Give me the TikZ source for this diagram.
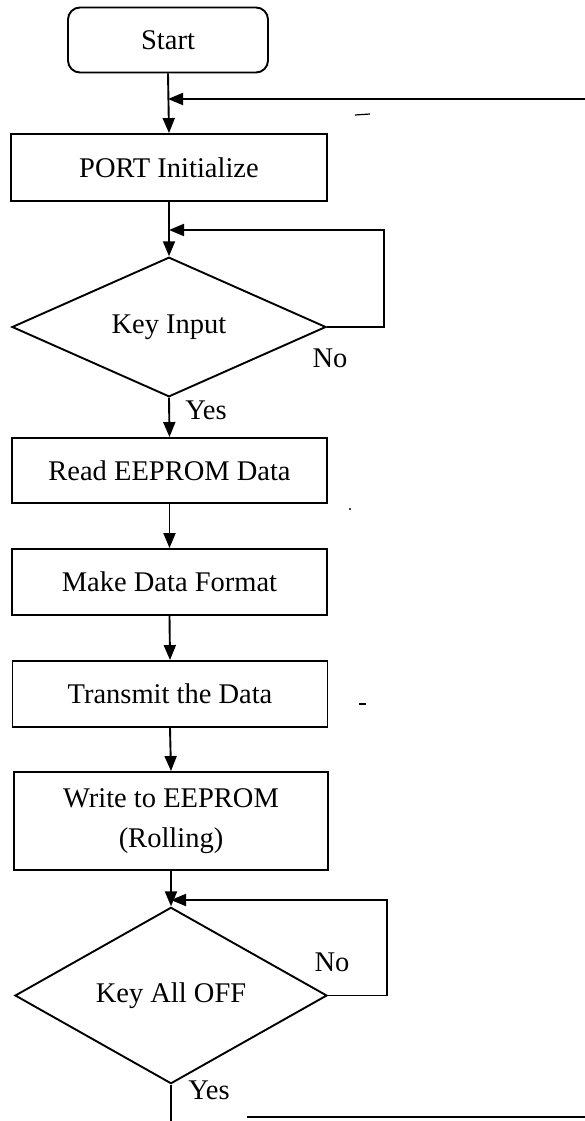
\documentclass[tikz,border=0pt]{standalone}
\usepackage{fontspec}
\setmainfont{Liberation Serif}
\usetikzlibrary{arrows.meta,shapes.geometric}
\begin{document}
\begin{tikzpicture}[x=1pt,y=-1pt,
  line width=1.9pt,
  txt/.style={font=\fontsize{28.5}{40}\selectfont},
  procbox/.style={draw,rectangle,inner sep=0pt,txt,align=center},
  termbox/.style={draw,rectangle,rounded corners=12pt,inner sep=0pt,txt},
  decbox/.style={draw,diamond,inner sep=0pt,txt},
  lbl/.style={inner sep=0pt,txt},
  arr/.style={-{Triangle[length=15pt,width=12pt]}}]
\useasboundingbox (0,0) rectangle (585,1121);

\node[termbox,minimum width=200pt,minimum height=65pt] (start) at (168,40) {Start};
\node[procbox,minimum width=316pt,minimum height=67pt] (port) at (169,167.5) {PORT Initialize};
\node[decbox,minimum width=314pt,minimum height=129pt] (key) at (169,327) {Key Input};
\node[procbox,minimum width=315pt,minimum height=65pt] (read) at (169.5,470.5) {Read EEPROM Data};
\node[procbox,minimum width=315pt,minimum height=66pt] (make) at (169.5,582) {Make Data Format};
\node[procbox,minimum width=315pt,minimum height=66pt] (trans) at (170,694) {Transmit the Data};
\node[procbox,minimum width=314pt,minimum height=98pt] (write) at (171,821) {Write to EEPROM\\(Rolling)};
\node[decbox,minimum width=312pt,minimum height=125pt] (off) at (171,995.5) {Key All OFF};

\node[lbl] (no1) at (330,358) {No};
\node[lbl] (yes1) at (206,410) {Yes};
\node[lbl] (no2) at (332,962) {No};
\node[lbl] (yes2) at (209,1090) {Yes};

% main flow
\draw[arr] (start.south) -- (port.north);
\draw[arr] (port.south) -- (key.north);
\draw[arr] (key.south) -- (read.north);
\draw[arr] (read.south) -- (make.north);
\draw[arr] (make.south) -- (trans.north);
\draw[arr] (trans.south) -- (write.north);
\draw[arr] (write.south) -- (off.north);

% return loop from the bottom (cropped)
\coordinate (r1) at (586,99);
\draw[arr] (r1) -- (start.south |- r1);

% Key Input loop
\coordinate (k1) at (384,0);
\draw[arr] (key.east) -| (k1 |- 0,230) -- (key.north |- 0,230);

% Key All OFF loop
\coordinate (o1) at (387,0);
\draw[arr] (off.east) -| (o1 |- 0,900) -- (off.north |- 0,900);

% exit
\coordinate (e1) at (off.south |- 0,1122);
\draw (off.south) -- (e1);
\coordinate (b1) at (247,1117);
\coordinate (b2) at (586,1117);
\draw (b1) -- (b2);

% small marks
\draw[line width=1.2pt] (355,115) -- (370,114);
\fill (350,509) circle (1.2pt);
\draw[line width=1.2pt] (359,704) -- (366,704);
\end{tikzpicture}
\end{document}
